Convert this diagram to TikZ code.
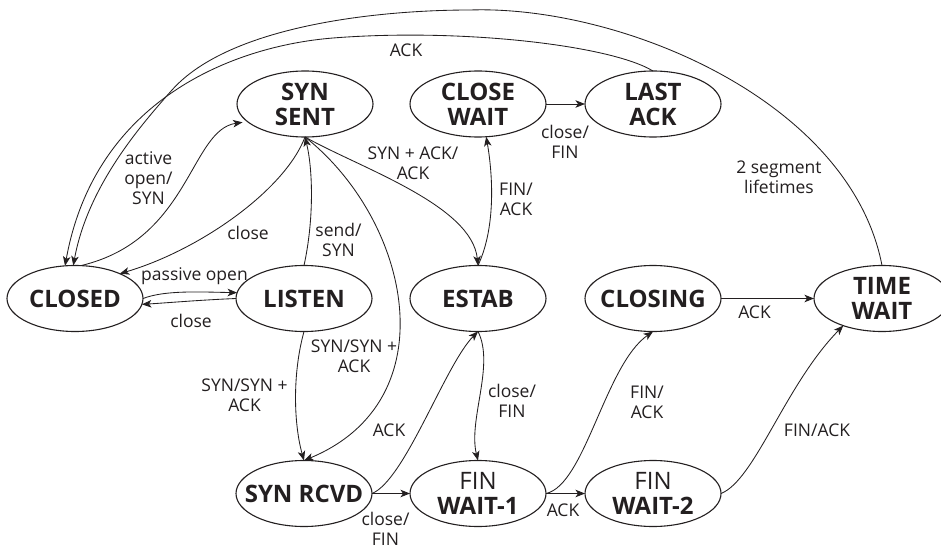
\documentclass[tikz,border=0pt]{standalone}
\usepackage{fontspec}
\setmainfont{Open Sans}
\usetikzlibrary{shapes.geometric,arrows.meta}
\definecolor{ink}{RGB}{35,31,32}
\begin{document}
\begin{tikzpicture}[x=1pt,y=-1pt,
  state/.style={ellipse,draw=ink,line width=1.1pt,minimum width=136pt,
    minimum height=66pt,inner sep=0pt,outer sep=0pt},
  statetext/.style={font=\fontsize{24}{25}\selectfont\bfseries,text=ink,
    align=center,inner sep=0pt},
  edge/.style={draw=ink,line width=0.85pt,
    -{Stealth[length=9.5pt,width=7.5pt,inset=2.5pt]}},
  lbl/.style={font=\fontsize{17.5}{20}\selectfont,text=ink,align=center,
    inner sep=0pt}]
\useasboundingbox (0,0) rectangle (941,548);

% states
\node[state,label={[statetext]center:{SYN\\SENT}}]      (synsent)   at (305,104) {};
\node[state,label={[statetext]center:{CLOSE\\WAIT}}]    (closewait) at (478,104) {};
\node[state,label={[statetext]center:{LAST\\ACK}}]      (lastack)   at (653,104) {};
\node[state,label={[statetext]center:{CLOSED}}]         (closed)    at (75,298.5) {};
\node[state,label={[statetext]center:{LISTEN}}]         (listen)    at (304,298.5) {};
\node[state,label={[statetext]center:{ESTAB}}]          (estab)     at (478,298.5) {};
\node[state,label={[statetext]center:{CLOSING}}]        (closing)   at (653,298.5) {};
\node[state,label={[statetext]center:{TIME\\WAIT}}]     (timewait)  at (882,298.5) {};
\node[state,label={[statetext]center:{SYN RCVD}}]       (synrcvd)   at (304,493.5) {};
\node[state,label={[statetext]center:{{\mdseries FIN}\\WAIT-1}}] (finwait1) at (478,493.5) {};
\node[state,label={[statetext]center:{{\mdseries FIN}\\WAIT-2}}] (finwait2) at (653,493.5) {};

% opening the connection
\draw[edge,shorten >=5pt] (closed.80) .. controls (190,240) and (190,130) .. (synsent.197);
\draw[edge] (synsent.south) .. controls (285,190) and (200,250) .. (closed.29);
\draw[edge] (closed.east) .. controls (165,290) and (200,292) .. (listen.175);
\draw[edge] (listen.west) .. controls (200,300) and (165,303) .. (closed.-5);
\draw[edge] (listen.north) .. controls (314,220) and (313,170) .. (synsent.south);
\draw[edge] (synsent.south) .. controls (360,168) and (472,205) .. (estab.north);
\draw[edge] (synsent.south) .. controls (410,220) and (450,400) .. (synrcvd.north);
\draw[edge] (listen.south) .. controls (292,375) and (294,425) .. (synrcvd.north);
\draw[edge] (synrcvd.east) .. controls (405,480) and (445,365) .. (estab.south);

% closing the connection
\draw[edge] (synrcvd.east) -- (finwait1.west);
\draw[edge] (estab.south) .. controls (495,365) and (468,420) .. (finwait1.north);
\draw[edge] (estab.north) .. controls (497,225) and (492,170) .. (closewait.-76);
\draw[edge] (closewait.east) -- (lastack.west);
\draw[edge] (finwait1.east) .. controls (585,485) and (605,365) .. (closing.south);
\draw[edge] (finwait1.east) -- (finwait2.west);
\draw[edge] (finwait2.east) .. controls (755,480) and (785,385) .. (timewait.215);
\draw[edge] (closing.east) -- (timewait.west);

% long arcs back to CLOSED
\draw[edge] (lastack.north) .. controls (610,45) and (460,28) .. (333,38)
  .. controls (233,46) and (95,100) .. (closed.107);
\draw[edge] (timewait.north) .. controls (850,100) and (620,5) .. (470,10)
  .. controls (380,10) and (230,25) .. (172,90)
  .. controls (142,124) and (88,185) .. (closed.93);

% transition labels
\node[lbl] (t-ack1)    at (406,50)    {ACK};
\node[lbl] (t-active)  at (148.5,178.5) {active\\open/\\SYN};
\node[lbl] (t-close1)  at (248,232.5) {close};
\node[lbl] (t-send)    at (338.5,239.5) {send/\\SYN};
\node[lbl] (t-synack)  at (413,163)   {SYN + ACK/\\ACK};
\node[lbl] (t-finack1) at (516,199)   {FIN/\\ACK};
\node[lbl] (t-closefin1) at (565,142) {close/\\FIN};
\node[lbl] (t-2msl)    at (779,177)   {2 segment\\lifetimes};
\node[lbl] (t-passive) at (194.5,276) {passive open};
\node[lbl] (t-close2)  at (191,321)   {close};
\node[lbl] (t-synsyn1) at (244.5,395) {SYN/SYN +\\ACK};
\node[lbl] (t-synsyn2) at (354,356.5) {SYN/SYN +\\ACK};
\node[lbl] (t-ack2)    at (389,430.5) {ACK};
\node[lbl] (t-closefin2) at (385.5,528.5) {close/\\FIN};
\node[lbl] (t-closefin3) at (512,401) {close/\\FIN};
\node[lbl] (t-finack2) at (647,402)   {FIN/\\ACK};
\node[lbl] (t-ack3)    at (563,510)   {ACK};
\node[lbl] (t-finack3) at (817,430.5) {FIN/ACK};
\node[lbl] (t-ack4)    at (754.5,312.5) {ACK};
\end{tikzpicture}
\end{document}
